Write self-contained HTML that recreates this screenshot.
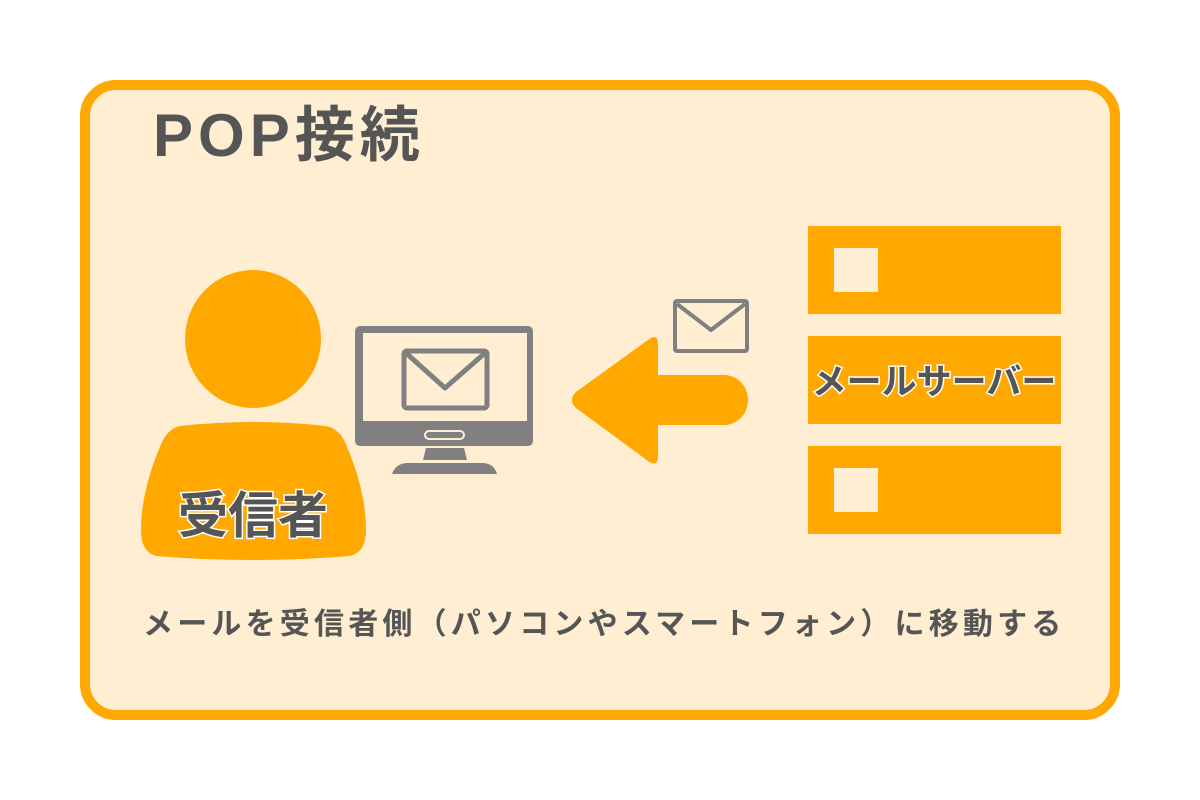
<!DOCTYPE html>
<html><head><meta charset="utf-8"><style>
body{margin:0;background:#fff;width:1200px;height:800px;overflow:hidden;position:relative;font-family:"Liberation Sans","Noto Sans CJK JP",sans-serif}
.box{position:absolute;left:80px;top:80px;width:1020px;height:620px;border:10px solid #ffa800;border-radius:36px;background:#ffeed1}
.t{position:absolute;white-space:nowrap;font-weight:bold;color:#555;font-family:"Liberation Sans","Noto Sans CJK JP",sans-serif}
</style></head><body>
<div class="box"></div>
<div class="t" style="left:153px;top:96px;font-size:60px;line-height:80px;letter-spacing:5px">POP接続</div>
<svg width="1200" height="800" style="position:absolute;left:0;top:0">
<ellipse cx="253" cy="339" rx="68" ry="69" fill="#ffa800"/>
<path d="M180 426 Q253 418 326 426 Q338 428 345 442 Q366 490 366 530 Q366 552 350 556 Q253 564 156 556 Q141 552 141 530 Q141 490 162 442 Q169 428 180 426Z" fill="#ffa800"/>
<rect x="355" y="326" width="178" height="120" rx="5" fill="#808080"/>
<rect x="363" y="333" width="164" height="88" fill="#ffeed1"/>
<rect x="425" y="431" width="39" height="8" rx="4" fill="none" stroke="#ffeed1" stroke-width="2"/>
<rect x="404" y="351" width="83" height="57" rx="3" fill="none" stroke="#808080" stroke-width="5"/>
<path d="M406 353 L445 388 L485 353" fill="none" stroke="#808080" stroke-width="5" stroke-linejoin="round"/>
<path d="M426 448 H464 L467 460 H423Z" fill="#808080"/>
<path d="M392 474 Q396 463 408 463 H482 Q494 463 497 474Z" fill="#808080"/>
<path d="M658 345 Q658 332 648 340 L576 392 Q568 400 576 408 L648 461 Q658 468 658 455Z" fill="#ffa800"/>
<path d="M658 375 H724 A24 25 0 0 1 724 425 H658Z" fill="#ffa800"/>
<rect x="675" y="301" width="72" height="50" rx="2" fill="none" stroke="#808080" stroke-width="4"/>
<path d="M677 304 L711 330 L745 304" fill="none" stroke="#808080" stroke-width="4" stroke-linejoin="round"/>
<rect x="808" y="226" width="253" height="88" fill="#ffa800"/>
<rect x="808" y="336" width="253" height="88" fill="#ffa800"/>
<rect x="808" y="446" width="253" height="88" fill="#ffa800"/>
<rect x="834" y="248" width="44" height="44" fill="#ffeed1"/>
<rect x="834" y="468" width="44" height="44" fill="#ffeed1"/>
<g font-family="'Liberation Sans','Noto Sans CJK JP',sans-serif" font-weight="bold" fill="#555" stroke="#fff" stroke-width="3" paint-order="stroke" text-anchor="middle">
<text x="253" y="533" font-size="50">受信者</text>
<text x="934" y="394" font-size="35">メールサーバー</text>
</g>
</svg>
<div class="t" style="left:143px;top:605px;font-size:30px;line-height:40px;letter-spacing:4.2px">メールを受信者側（パソコンやスマートフォン）に移動する</div>
</body></html>
